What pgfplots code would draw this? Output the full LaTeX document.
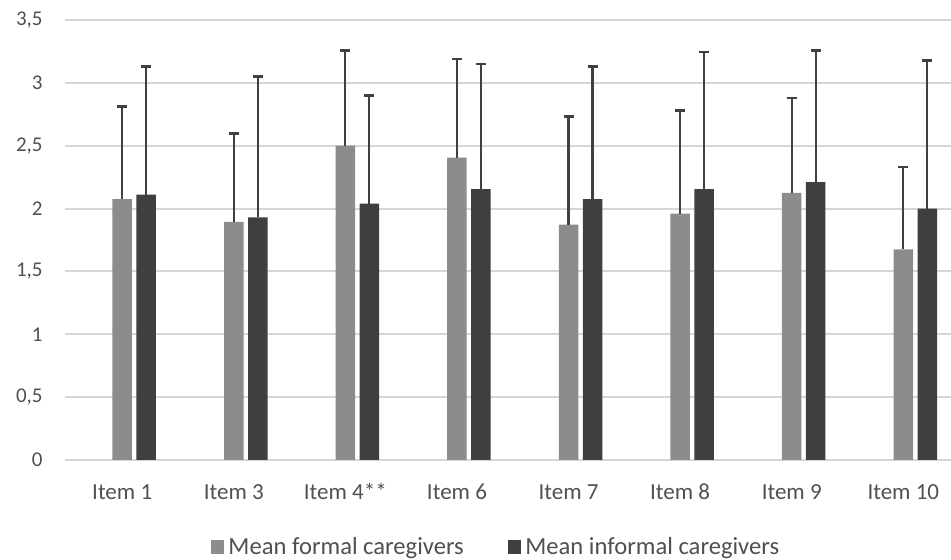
\documentclass[border=0pt]{standalone}
\usepackage{fontspec}
\setmainfont{Carlito}
\usepackage{pgfplots}
\usepackage{pgfplotstable}
\pgfplotsset{compat=1.18}
\definecolor{formal}{HTML}{8C8C8C}
\definecolor{informal}{HTML}{3F3F3F}
\definecolor{errc}{HTML}{404040}
\definecolor{gridc}{HTML}{D6D6D6}
\definecolor{txt}{HTML}{505050}

\pgfplotstableread{
x  y     e
0  2.075 0.740
1  1.894 0.706
2  2.500 0.760
3  2.405 0.785
4  1.873 0.857
5  1.960 0.820
6  2.125 0.755
7  1.676 0.654
}\formaltab
\pgfplotstableread{
x  y     e
0  2.110 1.020
1  1.930 1.120
2  2.040 0.860
3  2.155 0.995
4  2.075 1.055
5  2.155 1.090
6  2.210 1.050
7  2.000 1.180
}\informaltab

\begin{document}
\begin{tikzpicture}
\begin{axis}[
  scale only axis,
  width=443pt, height=220pt,
  at={(0,0)}, anchor=south west,
  xmin=-0.62, xmax=7.32,
  ymin=0, ymax=3.5,
  ybar,
  bar width=9.75pt,
  axis line style={draw=none},
  major tick length=0pt,
  ytick={0,0.5,...,3.5},
  ymajorgrids,
  grid style={draw=gridc, line width=1pt},
  xtick={0,...,7},
  xticklabels={Item 1,Item 3,Item 4**,Item 6,Item 7,Item 8,Item 9,Item 10},
  xticklabel style={anchor=base, yshift=-20pt, xshift=-6pt, font=\fontsize{11.5}{13}\selectfont, text=txt, inner sep=0pt},
  yticklabel style={anchor=east, xshift=-11pt, inner sep=0pt, font=\fontsize{10.5}{12}\selectfont, text=txt},
  /pgf/number format/.cd, use comma, fixed, precision=1, assume math mode=true,
  /pgfplots/.cd,
  clip=false,
  legend columns=2,
  legend style={draw=none, at={(0.4876,-0.198)}, anchor=center,
    font=\fontsize{12.3}{14}\selectfont, text=txt,
    /tikz/every even column/.append style={column sep=20pt},
    inner sep=0pt},
  legend image code/.code={\fill[#1, draw=none] (0pt,-3.4pt) rectangle (6.8pt,3.4pt);},
]
\addplot[fill=formal, draw=none, bar shift=-6pt,
  error bars/.cd, y dir=plus, y explicit,
  error bar style={draw=errc, line width=1.1pt},
  error mark options={draw=errc, line width=1.4pt, mark size=2.5pt, rotate=90}]
  table[x=x, y=y, y error=e] {\formaltab};
\addplot[fill=informal, draw=none, bar shift=6pt,
  error bars/.cd, y dir=plus, y explicit,
  error bar style={draw=errc, line width=1.1pt},
  error mark options={draw=errc, line width=1.4pt, mark size=2.5pt, rotate=90}]
  table[x=x, y=y, y error=e] {\informaltab};
\legend{Mean formal caregivers, Mean informal caregivers}
\end{axis}
\pgfresetboundingbox
\path (-32.5pt,-50pt) rectangle (443pt,230pt);
\end{tikzpicture}
\end{document}
